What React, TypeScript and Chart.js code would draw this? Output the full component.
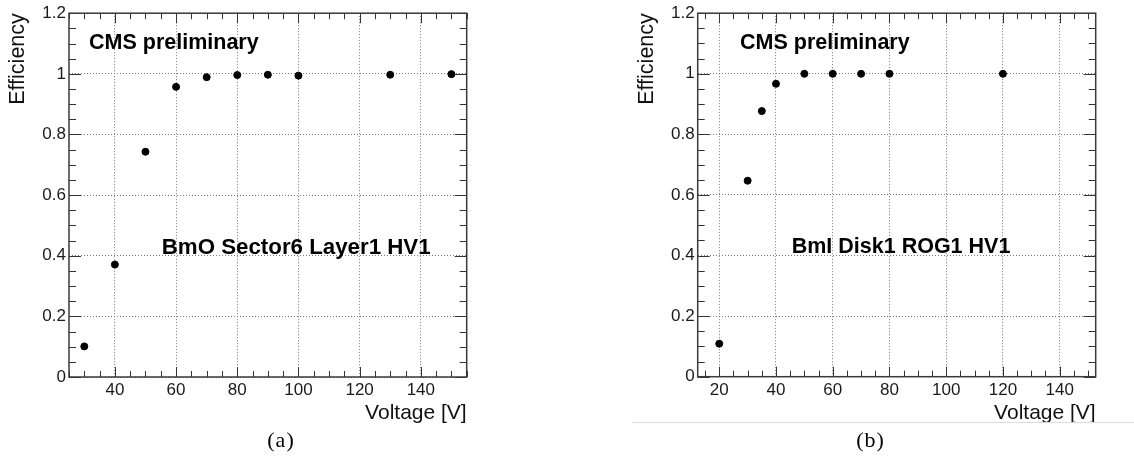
import React, { useEffect, useRef } from 'react';
import { Chart, registerables } from 'chart.js';

Chart.register(...registerables);

// ---- data ----
const voltageA = [30, 40, 50, 60, 70, 80, 90, 100, 130, 150];
const efficiencyA = [0.101, 0.371, 0.743, 0.957, 0.989, 0.996, 0.997, 0.994, 0.997, 0.999];

const voltageB = [20, 30, 35, 40, 50, 60, 70, 80, 120];
const efficiencyB = [0.109, 0.647, 0.877, 0.967, 1.0, 1.0, 1.0, 1.0, 1.0];

const xTicksA = [40, 60, 80, 100, 120, 140];
const xTicksB = [20, 40, 60, 80, 100, 120, 140];
const yTicks = [0, 0.2, 0.4, 0.6, 0.8, 1.0, 1.2];

const xRangeA = [25, 155];
const xRangeB = [12.4, 152.7];
const yRange = [0, 1.2];

const headerText = 'CMS preliminary';
const labelA = 'BmO Sector6 Layer1 HV1';
const labelB = 'BmI Disk1 ROG1 HV1';
const panelA = '(a)';
const panelB = '(b)';
const xTitle = 'Voltage [V]';
const yTitle = 'Efficiency';

const SANS = "'Liberation Sans', Arial, Helvetica, sans-serif";
const SERIF = "'Liberation Serif', 'Times New Roman', serif";

type Panel = {
  xs: number[];
  ys: number[];
  xTicks: number[];
  xRange: number[];
  padding: { left: number; top: number; right: number; bottom: number };
  xHeight: number;
  label: string;
  labelSize: number;
  panel: string;
  headerDx: number;
  headerBaseDy: number;
  labelDx: number;
  labelBaseY: number;
  panelX: number;
  separator: boolean;
};

const W = 567;
const H = 457;

const rootStyle = {
  id: 'rootStyle',
  afterDraw(chart: any, _args: any, opts: any) {
    const p: Panel = opts.panel;
    const { ctx, chartArea: a, scales } = chart;
    const xs = scales.x;
    const ys = scales.y;
    ctx.save();
    ctx.strokeStyle = '#333';
    ctx.lineWidth = 1;
    const seg = (x1: number, y1: number, x2: number, y2: number) => {
      ctx.beginPath();
      ctx.moveTo(x1, y1);
      ctx.lineTo(x2, y2);
      ctx.stroke();
    };
    // x ticks (bottom & top, inward)
    for (let v = Math.ceil(xs.min / 5) * 5; v <= xs.max + 1e-9; v += 5) {
      const major = v % 20 === 0;
      const len = major ? 10 : 6;
      const px = Math.round(xs.getPixelForValue(v)) + 0.5;
      seg(px, a.bottom, px, a.bottom - len);
      seg(px, a.top, px, a.top + len);
    }
    // y ticks (left & right, inward)
    for (let i = 0; i <= 24; i++) {
      const v = i * 0.05;
      const major = i % 4 === 0;
      const len = major ? 12 : 7;
      const py = Math.round(ys.getPixelForValue(v)) + 0.5;
      seg(a.left, py, a.left + len, py);
      seg(a.right, py, a.right - len, py);
    }
    // frame
    ctx.lineWidth = 1.5;
    ctx.strokeStyle = '#3a3a3a';
    ctx.strokeRect(a.left, a.top, a.right - a.left, a.bottom - a.top);

    // texts
    ctx.fillStyle = '#000';
    ctx.textBaseline = 'alphabetic';
    ctx.textAlign = 'left';
    ctx.font = `bold 21.5px ${SANS}`;
    ctx.fillText(headerText, a.left + p.headerDx, a.top + p.headerBaseDy);
    ctx.font = `bold ${p.labelSize}px ${SANS}`;
    ctx.fillText(p.label, a.left + p.labelDx, p.labelBaseY);

    ctx.font = `22px ${SERIF}`;
    ctx.textAlign = 'center';
    (ctx as any).letterSpacing = '1px';
    ctx.fillText(p.panel, p.panelX, 447);
    (ctx as any).letterSpacing = '0px';

    if (p.separator) {
      ctx.strokeStyle = '#dcdcdc';
      ctx.lineWidth = 1;
      seg(65, 422.5, W, 422.5);
    }
    ctx.restore();
  },
};

function makeConfig(p: Panel): any {
  return {
    type: 'scatter',
    data: {
      datasets: [
        {
          data: p.xs.map((x, i) => ({ x, y: p.ys[i] })),
          backgroundColor: '#000',
          borderColor: '#000',
          pointRadius: 3.5,
          pointHoverRadius: 3.5,
          showLine: false,
        },
      ],
    },
    options: {
      responsive: false,
      animation: false,
      devicePixelRatio: 1,
      events: [],
      layout: { padding: p.padding },
      plugins: {
        legend: { display: false },
        tooltip: { enabled: false },
        rootStyle: { panel: p },
      },
      scales: {
        x: {
          type: 'linear',
          min: p.xRange[0],
          max: p.xRange[1],
          afterBuildTicks: (s: any) => {
            s.ticks = p.xTicks.map((v) => ({ value: v }));
          },
          afterFit: (s: any) => {
            s.height = p.xHeight;
          },
          grid: { color: '#7a7a7a', lineWidth: 1, drawTicks: false },
          border: { display: false, dash: [1, 2] },
          ticks: {
            color: '#1a1a1a',
            padding: 3,
            font: { family: SANS, size: 17 },
            maxRotation: 0,
            autoSkip: false,
            callback: (v: number) => String(v),
          },
          title: {
            display: true,
            text: xTitle,
            align: 'end',
            color: '#111',
            font: { family: SANS, size: 21, lineHeight: 1.2 },
            padding: { top: 0, bottom: 31 },
          },
        },
        y: {
          type: 'linear',
          min: yRange[0],
          max: yRange[1],
          afterBuildTicks: (s: any) => {
            s.ticks = yTicks.map((v) => ({ value: v }));
          },
          afterFit: (s: any) => {
            s.width = 69;
          },
          grid: { color: '#7a7a7a', lineWidth: 1, drawTicks: false },
          border: { display: false, dash: [1, 2] },
          ticks: {
            color: '#1a1a1a',
            padding: 3,
            font: { family: SANS, size: 17 },
            autoSkip: false,
            callback: (v: number) => String(Math.round(v * 10) / 10),
          },
          title: {
            display: true,
            text: yTitle,
            align: 'end',
            color: '#111',
            font: { family: SANS, size: 21.5, lineHeight: 1.2 },
            padding: { top: 5.5, bottom: 0 },
          },
        },
      },
    },
    plugins: [rootStyle],
  };
}

const panelConfigA: Panel = {
  xs: voltageA,
  ys: efficiencyA,
  xTicks: xTicksA,
  xRange: xRangeA,
  padding: { left: 0, top: 10.5, right: W - 466.7, bottom: 0 },
  xHeight: H - 377,
  label: labelA,
  labelSize: 22.3,
  panel: panelA,
  headerDx: 20,
  headerBaseDy: 36,
  labelDx: 92.7,
  labelBaseY: 253.7,
  panelX: 281,
  separator: false,
};

const panelConfigB: Panel = {
  xs: voltageB,
  ys: efficiencyB,
  xTicks: xTicksB,
  xRange: xRangeB,
  padding: { left: 697.7 - W - 69, top: 9.5, right: W - (1095.7 - W), bottom: 0 },
  xHeight: H - 376.7,
  label: labelB,
  labelSize: 21.5,
  panel: panelB,
  headerDx: 42.3,
  headerBaseDy: 35.5,
  labelDx: 94,
  labelBaseY: 253.3,
  panelX: 870.5 - W,
  separator: true,
};

function ChartPanel({ cfg, left }: { cfg: Panel; left: number }) {
  const ref = useRef<HTMLCanvasElement | null>(null);
  useEffect(() => {
    if (!ref.current) return;
    const chart = new Chart(ref.current, makeConfig(cfg));
    return () => chart.destroy();
  }, [cfg]);
  return (
    <canvas
      ref={ref}
      width={W}
      height={H}
      style={{ position: 'absolute', left, top: 0, width: W, height: H, display: 'block' }}
    />
  );
}

export default function App() {
  return (
    <div
      style={{
        position: 'fixed',
        left: 0,
        top: 0,
        width: 1134,
        height: 457,
        background: '#fff',
        overflow: 'hidden',
      }}
    >
      <ChartPanel cfg={panelConfigA} left={0} />
      <ChartPanel cfg={panelConfigB} left={W} />
    </div>
  );
}
